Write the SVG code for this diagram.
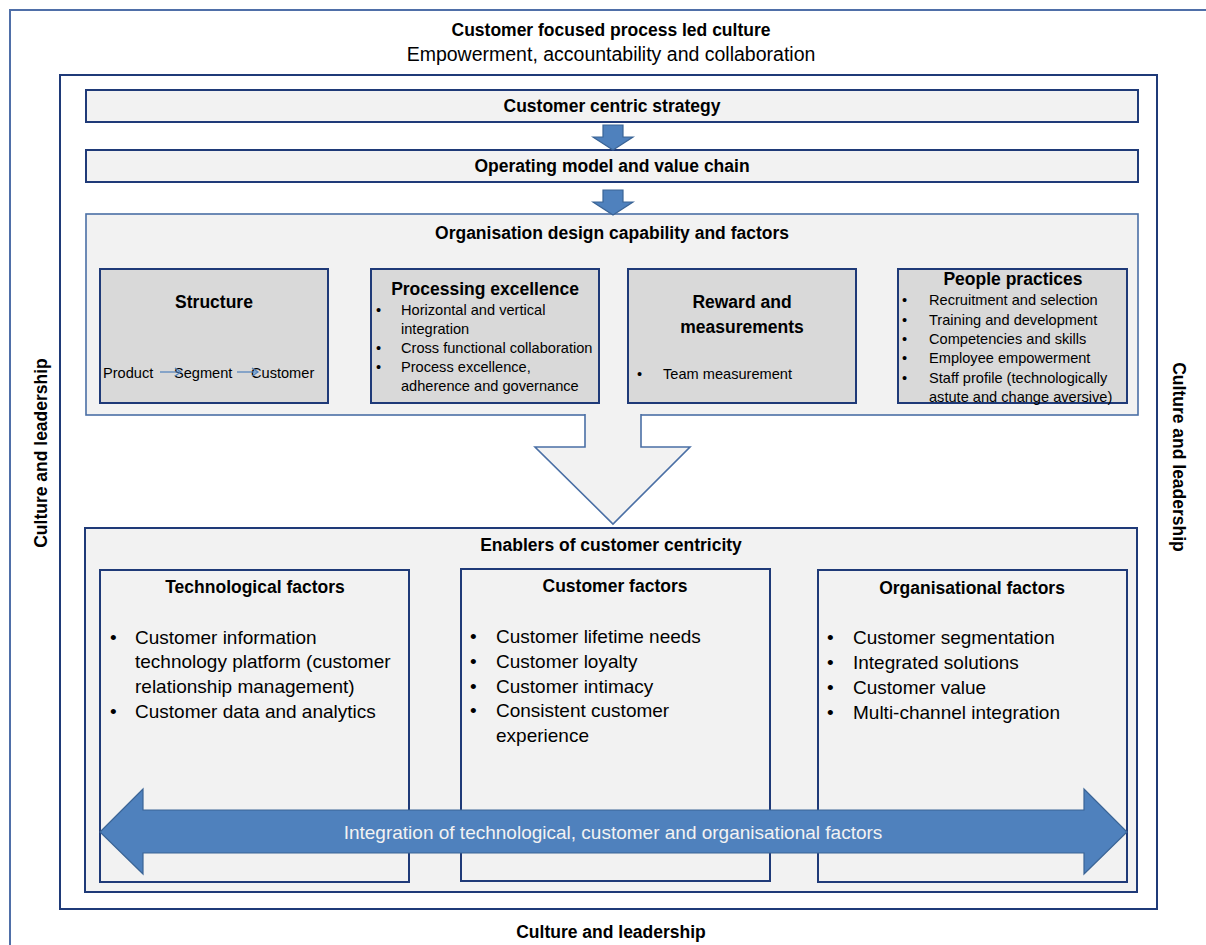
<svg xmlns="http://www.w3.org/2000/svg" width="1206" height="945" viewBox="0 0 1206 945">
<style>
text{font-family:"Liberation Sans",Arial,sans-serif;fill:#000}
.h{font-weight:bold;font-size:17.5px;text-anchor:middle}
.sub{font-size:19.5px;text-anchor:middle}
.s{font-size:14.6px}
.l{font-size:19px}
.bx{fill:#f2f2f2;stroke:#1f3a78;stroke-width:2}
.gb{fill:#d9d9d9;stroke:#1f3a78;stroke-width:2}
.ba{fill:#4f81bd;stroke:#3a6496;stroke-width:1.2}
</style>
<defs>
<marker id="oa" markerWidth="10" markerHeight="10" refX="8" refY="5" orient="auto" markerUnits="userSpaceOnUse">
<path d="M2,1 L8,5 L2,9" fill="none" stroke="#4f81bd" stroke-width="1.2"/>
</marker>
</defs>
<rect width="1206" height="945" fill="#fff"/>
<g id="frame">
<path d="M10,945 V10 H1206" fill="none" stroke="#4f6fa8" stroke-width="2"/>
<text class="h" x="611" y="36">Customer focused process led culture</text>
<text class="sub" x="611" y="61">Empowerment, accountability and collaboration</text>
<rect x="60" y="75" width="1097" height="834" fill="#fff" stroke="#1f3a78" stroke-width="2"/>
<text class="h" transform="translate(47,453) rotate(-90)">Culture and leadership</text>
<text class="h" transform="translate(1173,457) rotate(90)">Culture and leadership</text>
<text class="h" x="611" y="938">Culture and leadership</text>
</g>
<g id="strategy">
<rect class="bx" x="86" y="90" width="1052" height="32"/>
<text class="h" x="612" y="112">Customer centric strategy</text>
</g>
<g id="operating">
<rect class="bx" x="86" y="150" width="1052" height="32"/>
<text class="h" x="612" y="172">Operating model and value chain</text>
</g>
<g id="orgdesign">
<rect x="86" y="214" width="1052" height="201" fill="#f2f2f2" stroke="#4a6fa5" stroke-width="1.6"/>
<text class="h" x="612" y="239">Organisation design capability and factors</text>
</g>
<g id="structure">
<rect class="gb" x="100" y="269" width="228" height="134"/>
<text class="h" x="214" y="308">Structure</text>
<text class="s" x="103" y="378">Product</text>
<text class="s" x="174" y="378">Segment</text>
<text class="s" x="251" y="378">Customer</text>
<line x1="160" y1="372" x2="181" y2="372" stroke="#4f81bd" stroke-width="1.2" marker-end="url(#oa)"/>
<line x1="237" y1="372" x2="258" y2="372" stroke="#4f81bd" stroke-width="1.2" marker-end="url(#oa)"/>
</g>
<g id="processing">
<rect class="gb" x="371" y="269" width="228" height="134"/>
<text class="h" x="485" y="295">Processing excellence</text>
<text class="s" x="376" y="315">•</text><text class="s" x="401" y="315">Horizontal and vertical</text>
<text class="s" x="401" y="334">integration</text>
<text class="s" x="376" y="353">•</text><text class="s" x="401" y="353">Cross functional collaboration</text>
<text class="s" x="376" y="372">•</text><text class="s" x="401" y="372">Process excellence,</text>
<text class="s" x="401" y="391">adherence and governance</text>
</g>
<g id="reward">
<rect class="gb" x="628" y="269" width="228" height="134"/>
<text class="h" x="742" y="308">Reward and</text>
<text class="h" x="742" y="333">measurements</text>
<text class="s" x="637" y="379">•</text><text class="s" x="663" y="379">Team measurement</text>
</g>
<g id="people">
<rect class="gb" x="898" y="269" width="229" height="134"/>
<text class="h" x="1013" y="285">People practices</text>
<text class="s" x="902" y="305">•</text><text class="s" x="929" y="305">Recruitment and selection</text>
<text class="s" x="902" y="325">•</text><text class="s" x="929" y="325">Training and development</text>
<text class="s" x="902" y="344">•</text><text class="s" x="929" y="344">Competencies  and skills</text>
<text class="s" x="902" y="363">•</text><text class="s" x="929" y="363">Employee empowerment</text>
<text class="s" x="902" y="383">•</text><text class="s" x="929" y="383">Staff profile (technologically</text>
<text class="s" x="929" y="402">astute and change aversive)</text>
</g>
<g id="enablers">
<rect class="bx" x="85" y="528" width="1052" height="364"/>
<text class="h" x="611" y="551">Enablers of customer centricity</text>
</g>
<g id="technological">
<rect class="bx" x="100" y="570" width="309" height="312"/>
<text class="h" x="255" y="593">Technological factors</text>
<text class="l" x="110" y="644">•</text><text class="l" x="135" y="644">Customer information</text>
<text class="l" x="135" y="668">technology platform (customer</text>
<text class="l" x="135" y="693">relationship management)</text>
<text class="l" x="110" y="718">•</text><text class="l" x="135" y="718">Customer data and analytics</text>
</g>
<g id="customer">
<rect class="bx" x="461" y="569" width="309" height="312"/>
<text class="h" x="615" y="592">Customer factors</text>
<text class="l" x="470" y="643">•</text><text class="l" x="496" y="643">Customer lifetime needs</text>
<text class="l" x="470" y="668">•</text><text class="l" x="496" y="668">Customer loyalty</text>
<text class="l" x="470" y="693">•</text><text class="l" x="496" y="693">Customer intimacy</text>
<text class="l" x="470" y="717">•</text><text class="l" x="496" y="717">Consistent customer</text>
<text class="l" x="496" y="742">experience</text>
</g>
<g id="organisational">
<rect class="bx" x="818" y="570" width="309" height="312"/>
<text class="h" x="972" y="594">Organisational factors</text>
<text class="l" x="827" y="644">•</text><text class="l" x="853" y="644">Customer segmentation</text>
<text class="l" x="827" y="669">•</text><text class="l" x="853" y="669">Integrated solutions</text>
<text class="l" x="827" y="694">•</text><text class="l" x="853" y="694">Customer value</text>
<text class="l" x="827" y="719">•</text><text class="l" x="853" y="719">Multi-channel integration</text>
</g>
<g id="connectors">
<polygon class="ba" points="603,125 623,125 623,137 633,137 613,150 593,137 603,137"/>
<polygon class="ba" points="603,190 623,190 623,202 633,202 613,215 593,202 603,202"/>
<polygon points="585,414 585,447 535,447 613,524 690,447 641,447 641,414" fill="#f2f2f2" stroke="none"/>
<polyline points="585,414 585,447 535,447 613,524 690,447 641,447 641,414" fill="none" stroke="#4a6fa5" stroke-width="1.6"/>
<polygon class="ba" points="100,832 143,789 143,810 1084,810 1084,789 1127,832 1084,874 1084,853 143,853 143,874"/>
<text x="613" y="839" style="font-size:19px;text-anchor:middle;fill:#f2f2f2">Integration of technological, customer and organisational factors</text>
</g>
</svg>
